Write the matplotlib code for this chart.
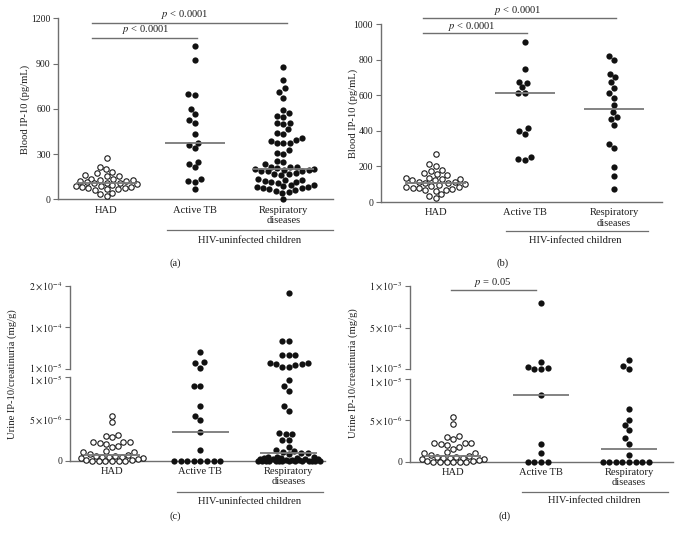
import numpy as np
import matplotlib
matplotlib.use("Agg")
import matplotlib.pyplot as plt
from matplotlib.transforms import blended_transform_factory, ScaledTranslation

plt.rcParams["font.family"] = ["Liberation Serif", "DejaVu Serif"]
plt.rcParams["mathtext.fontset"] = "stix"

# ---------------- data ----------------
categories = ["HAD", "Active TB", "Respiratory\ndiseases"]

# Blood IP-10 (pg/mL)
had_blood = [272, 212, 204, 181, 172, 163, 157, 152, 137, 137, 131, 127, 124, 122,
             114, 110, 105, 105, 99, 94, 90, 86, 82, 81, 77, 73, 70, 65, 62, 43, 36, 24]
tb_blood_uninf = [1017, 924, 698, 692, 597, 564, 526, 508, 431, 376, 360, 338, 250,
                  232, 212, 133, 124, 117, 66]
resp_blood_uninf = [879, 791, 736, 709, 674, 592, 570, 552, 548, 508, 499, 508, 466,
                    438, 433, 393, 371, 371, 371, 386, 408, 327, 305, 300, 254, 245,
                    232, 216, 216, 212, 205, 200, 198, 196, 192, 190, 188, 185, 175,
                    170, 165, 160, 135, 130, 125, 120, 118, 112, 108, 97, 92, 88, 84,
                    80, 76, 72, 66, 60, 55, 50, 45, 2]
tb_blood_inf = [897, 747, 676, 670, 644, 610, 610, 414, 399, 382, 253, 242, 236]
resp_blood_inf = [822, 798, 719, 700, 672, 639, 610, 586, 545, 504, 476, 466, 433,
                  326, 301, 199, 146, 71]

# Urine IP-10/creatinuria (mg/g), values in units of 1e-6 mg/g
had_urine_e6 = [5.4, 4.6, 3.1, 3.0, 2.8, 2.3, 2.3, 2.3, 2.1, 2.0, 1.8, 1.6, 1.2, 1.0,
                1.0, 0.8, 0.7, 0.6, 0.55, 0.5, 0.45, 0.4, 0.35, 0.3, 0.2, 0.1, 0.05,
                0, 0, 0, 0, 0, 0]
tb_urine_uninf_e6 = [47, 23.8, 21.6, 12, 8.9, 8.9, 6.6, 5.4, 4.9, 3.4, 1.3,
                     0, 0, 0, 0, 0, 0, 0, 0]
resp_urine_uninf_e6 = [183, 70, 70, 40.5, 40, 40, 22, 20, 19, 14, 14, 20, 22,
                       9.7, 9.0, 8.4, 6.6, 6.0, 3.3, 3.2, 3.2, 2.5, 2.5, 1.6, 1.3,
                       1.2, 1.1, 0.9, 0.9, 0.8,
                       0.5, 0.45, 0.4, 0.35, 0.3, 0.3, 0.25, 0.2, 0.2, 0.15, 0.1,
                       0.1, 0.05, 0, 0, 0, 0, 0, 0, 0, 0, 0, 0, 0, 0, 0, 0]
tb_urine_inf_e6 = [790, 100, 41, 30, 18, 18, 8.05, 2.2, 1.0, 0, 0, 0, 0]
resp_urine_inf_e6 = [120, 53, 14, 6.4, 5.06, 4.45, 3.85, 2.83, 2.2, 0.8,
                     0, 0, 0, 0, 0, 0, 0, 0]

# axis tick values
blood_ticks_a = [0, 300, 600, 900, 1200]
blood_ticks_b = [0, 200, 400, 600, 800, 1000]
urine_low_ticks = [0, 5e-6, 1e-5]
urine_low_labels = ["0", r"$5\times10^{-6}$", r"$1\times10^{-5}$"]
urine_up_ticks_c = [1e-5, 1e-4, 2e-4]
urine_up_labels_c = [r"$1\times10^{-5}$", r"$1\times10^{-4}$", r"$2\times10^{-4}$"]
urine_up_ticks_d = [1e-5, 5e-4, 1e-3]
urine_up_labels_d = [r"$1\times10^{-5}$", r"$5\times10^{-4}$", r"$1\times10^{-3}$"]

# ---------------- style ----------------
W, H = 681, 534
fig = plt.figure(figsize=(W / 100, H / 100), dpi=100)
SPINE = "#6f6f6f"
TXT = "#1e1e1e"
MED = "#7a7a7a"
FS_TICK = 7
FS_LAB = 7.6


def add_ax(l, r, t, b):
    return fig.add_axes([l / W, 1 - b / H, (r - l) / W, (b - t) / H])


def style_ax(ax, bottom=True):
    for s in ["top", "right"]:
        ax.spines[s].set_visible(False)
    ax.spines["left"].set_color(SPINE)
    ax.spines["left"].set_linewidth(1.0)
    if bottom:
        ax.spines["bottom"].set_color(SPINE)
        ax.spines["bottom"].set_linewidth(1.0)
        ax.set_xticks([0, 1, 2])
        ax.set_xticklabels(categories, fontsize=FS_LAB, color=TXT, linespacing=1.2)
        ax.tick_params(axis="x", length=0, pad=4.5)
    else:
        ax.spines["bottom"].set_visible(False)
        ax.set_xticks([])
    ax.tick_params(axis="y", direction="out", length=3.5, width=0.8, color=SPINE,
                   labelsize=FS_TICK, labelcolor=TXT, pad=2)
    ax.patch.set_alpha(0)


def swarm(ax, xc, vals, d=6.6, halfw=31):
    vals = np.asarray(vals, float)
    if len(vals) == 0:
        return vals
    order = np.argsort(vals, kind="stable")
    pts = ax.transData.transform(np.column_stack([np.full(len(vals), xc), vals]))
    ypx = pts[:, 1]
    px_x, px_y = [], []
    xs = np.zeros(len(vals))
    for i in order:
        y = ypx[i]
        cands = [0.0]
        for qx, qy in zip(px_x, px_y):
            dy = abs(qy - y)
            if dy < d:
                dx = np.sqrt(d * d - dy * dy)
                cands += [qx + dx, qx - dx]
        cands = sorted(cands, key=lambda c: (abs(c), c))
        chosen = None
        for c in cands:
            if abs(c) > halfw + 1e-9:
                continue
            if all((c - qx) ** 2 + (y - qy) ** 2 >= d * d - 1e-6 for qx, qy in zip(px_x, px_y)):
                chosen = c
                break
        if chosen is None:
            grid = np.linspace(-halfw, halfw, 63)
            chosen = max(grid, key=lambda c: min((c - qx) ** 2 + (y - qy) ** 2
                                                 for qx, qy in zip(px_x, px_y)))
        px_x.append(chosen)
        px_y.append(y)
        xs[i] = chosen
    p0 = ax.transData.transform([[0, 0]])[0, 0]
    p1 = ax.transData.transform([[1, 0]])[0, 0]
    return xc + xs / (p1 - p0)


def draw_points(ax, xc, vals, open_marker=False):
    if len(vals) == 0:
        return
    xs = swarm(ax, xc, vals)
    if open_marker:
        ax.plot(xs, vals, "o", mfc="white", mec="#1a1a1a", ms=3.9, mew=0.8,
                ls="none", clip_on=False, zorder=3)
    else:
        ax.plot(xs, vals, "o", color="#111111", ms=4.5, mew=0, ls="none",
                clip_on=False, zorder=3)


def median_line(ax, xc, med, hw=0.34):
    ax.hlines(med, xc - hw, xc + hw, color=MED, lw=1.3, zorder=4, clip_on=False)


def group_label(ax, x0, x1, yline, xt, yt, text):
    tr = blended_transform_factory(ax.transData, fig.transFigure)
    ax.plot([x0, x1], [1 - yline / H] * 2, color=SPINE, lw=0.9, transform=tr, clip_on=False)
    ax.text(xt, 1 - yt / H, text, transform=tr, ha="center", va="center",
            fontsize=FS_LAB, color=TXT)


def sig(ax, x0, x1, y, xt, yt, text, trans=None):
    ax.plot([x0, x1], [y, y], color=SPINE, lw=1.0, clip_on=False)
    ax.text(xt, yt, text, ha="center", va="center", fontsize=FS_LAB, color=TXT,
            transform=trans if trans is not None else ax.transData, clip_on=False)


def seg_scale(breaks):
    b = np.asarray(breaks, float)
    p = np.arange(len(b), dtype=float)

    def fwd(v):
        v = np.asarray(v, float)
        out = np.interp(v, b, p)
        out = np.where(v < b[0], (v - b[0]) / (b[1] - b[0]), out)
        out = np.where(v > b[-1], p[-1] + (v - b[-1]) / (b[-1] - b[-2]), out)
        return out

    def inv(u):
        u = np.asarray(u, float)
        out = np.interp(u, p, b)
        out = np.where(u < 0, b[0] + u * (b[1] - b[0]), out)
        out = np.where(u > p[-1], b[-1] + (u - p[-1]) * (b[-1] - b[-2]), out)
        return out
    return fwd, inv


# ---------------- panel (a) ----------------
ax = add_ax(58.3, 333, 18.3, 199.3)
ax.set_xlim(-0.545, 2.56)
ax.set_ylim(0, 1200)
ax.set_yticks(blood_ticks_a)
style_ax(ax)
for i, (vals, op) in enumerate([(had_blood, True), (tb_blood_uninf, False), (resp_blood_uninf, False)]):
    draw_points(ax, i, vals, op)
    median_line(ax, i, np.median(vals))
sig(ax, -0.167, 2.04, 1171, 0.89, 1228, r"$p$ < 0.0001")
sig(ax, -0.167, 1.02, 1071, 0.44, 1129, r"$p$ < 0.0001")
group_label(ax, 0.68, 2.56, 230, 1.62, 240.5, "HIV-uninfected children")
fig.text(25 / W, 1 - 109 / H, "Blood IP-10 (pg/mL)", rotation=90, ha="center",
         va="center", fontsize=FS_LAB, color=TXT)
fig.text(175 / W, 1 - 263 / H, "(a)", ha="center", va="center", fontsize=FS_LAB, color=TXT)

# ---------------- panel (b) ----------------
ax = add_ax(380.7, 661.7, 24, 202)
ax.set_xlim(-0.617, 2.534)
ax.set_ylim(0, 1000)
ax.set_yticks(blood_ticks_b)
style_ax(ax)
for i, (vals, op) in enumerate([(had_blood, True), (tb_blood_inf, False), (resp_blood_inf, False)]):
    draw_points(ax, i, vals, op)
    median_line(ax, i, np.median(vals))
sig(ax, -0.14, 2.02, 1032, 0.92, 1075, r"$p$ < 0.0001")
sig(ax, -0.14, 1.02, 948, 0.40, 985, r"$p$ < 0.0001")
group_label(ax, 0.79, 2.38, 231, 1.56, 240.5, "HIV-infected children")
fig.text(353 / W, 1 - 113 / H, "Blood IP-10 (pg/mL)", rotation=90, ha="center",
         va="center", fontsize=FS_LAB, color=TXT)
fig.text(503 / W, 1 - 263 / H, "(b)", ha="center", va="center", fontsize=FS_LAB, color=TXT)


# ---------------- urine panels ----------------
def urine_panel(l, r, low_t, low_b, up_t, up_b, xlim, up_ticks, up_labels, groups):
    axl = add_ax(l, r, low_t, low_b)
    axl.set_xlim(*xlim)
    axl.set_ylim(0, 1e-5)
    axl.set_yticks(urine_low_ticks)
    axl.set_yticklabels(urine_low_labels)
    style_ax(axl)
    axu = add_ax(l, r, up_t, up_b)
    axu.set_xlim(*xlim)
    axu.set_yscale("function", functions=seg_scale(up_ticks))
    axu.set_ylim(up_ticks[0], up_ticks[-1])
    axu.set_yticks(up_ticks)
    axu.set_yticklabels(up_labels)
    axu.minorticks_off()
    style_ax(axu, bottom=False)
    # nudge the two labels at the axis break apart slightly
    lab_low = axl.get_yticklabels()[-1]
    lab_low.set_transform(lab_low.get_transform() + ScaledTranslation(0, -1.2 / 72, fig.dpi_scale_trans))
    lab_up = axu.get_yticklabels()[0]
    lab_up.set_transform(lab_up.get_transform() + ScaledTranslation(0, 1.2 / 72, fig.dpi_scale_trans))
    for i, (vals_e6, op) in enumerate(groups):
        vals = np.asarray(vals_e6, float) * 1e-6
        low = vals[vals <= 1e-5]
        up = vals[vals > 1e-5]
        draw_points(axl, i, low, op)
        draw_points(axu, i, up, op)
        med = np.median(vals)
        median_line(axl if med <= 1e-5 else axu, i, med, hw=0.32)
    return axl, axu


axl, axu = urine_panel(70, 325, 377.3, 460.7, 285.7, 368.7, (-0.475, 2.41),
                       urine_up_ticks_c, urine_up_labels_c,
                       [(had_urine_e6, True), (tb_urine_uninf_e6, False),
                        (resp_urine_uninf_e6, False)])
group_label(axl, 0.73, 2.39, 491.7, 1.56, 501.5, "HIV-uninfected children")
fig.text(12 / W, 1 - 374 / H, "Urine IP-10/creatinuria (mg/g)", rotation=90,
         ha="center", va="center", fontsize=FS_LAB, color=TXT)
fig.text(175 / W, 1 - 516 / H, "(c)", ha="center", va="center", fontsize=FS_LAB, color=TXT)

axl, axu = urine_panel(410, 673, 379.3, 461.7, 286, 369.3, (-0.49, 2.5),
                       urine_up_ticks_d, urine_up_labels_d,
                       [(had_urine_e6, True), (tb_urine_inf_e6, False),
                        (resp_urine_inf_e6, False)])
sig(axu, -0.02, 0.94, 9.52e-4, 0.45, 1.045, r"$p$ = 0.05",
    trans=blended_transform_factory(axu.transData, axu.transAxes))
group_label(axl, 0.78, 2.44, 492, 1.61, 500.5, "HIV-infected children")
fig.text(353 / W, 1 - 373 / H, "Urine IP-10/creatinuria (mg/g)", rotation=90,
         ha="center", va="center", fontsize=FS_LAB, color=TXT)
fig.text(505 / W, 1 - 516 / H, "(d)", ha="center", va="center", fontsize=FS_LAB, color=TXT)

fig.savefig("out.png", dpi=100)
